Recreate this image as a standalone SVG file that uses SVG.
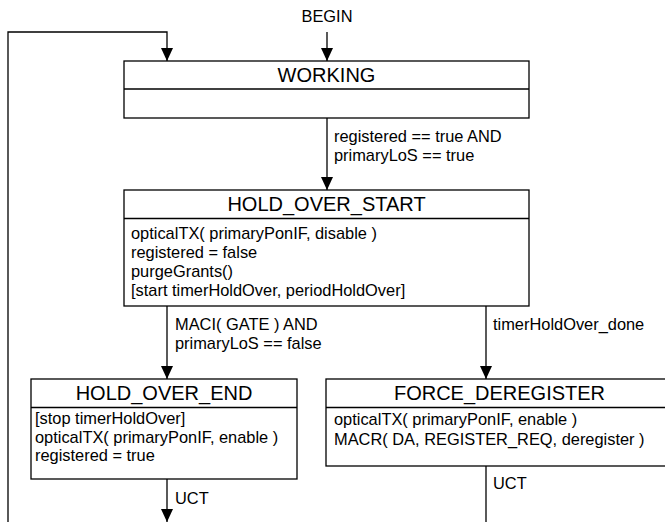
<svg xmlns="http://www.w3.org/2000/svg" width="665" height="522" viewBox="0 0 665 522">
<defs>
<marker id="arr" markerUnits="userSpaceOnUse" markerWidth="13" markerHeight="12" refX="13" refY="6" orient="auto" viewBox="0 0 13 12">
<path d="M0,0 L13,6 L0,12 Z" fill="#000"/>
</marker>
</defs>
<style>
.box{fill:#fff;stroke:#000;stroke-width:1.3}
.ln{fill:none;stroke:#000;stroke-width:1.3}
.t{font-family:"Liberation Sans",Arial,sans-serif;font-size:20px;fill:#000;text-anchor:middle}
.b{font-family:"Liberation Sans",Arial,sans-serif;font-size:16.4px;fill:#000}
</style>
<rect width="665" height="522" fill="#fff"/>
<g id="WORKING">
<rect class="box" x="124" y="61" width="405" height="57"/>
<line class="ln" x1="124" y1="89" x2="529" y2="89"/>
<text class="t" x="326.5" y="82">WORKING</text>
</g>
<g id="HOLD_OVER_START">
<rect class="box" x="124" y="190" width="405" height="116"/>
<line class="ln" x1="124" y1="218.5" x2="529" y2="218.5"/>
<text class="t" x="326.5" y="210.5">HOLD_OVER_START</text>
<text class="b" x="131" y="238.5">opticalTX( primaryPonIF, disable )</text>
<text class="b" x="131" y="257.5">registered = false</text>
<text class="b" x="131" y="276.5">purgeGrants()</text>
<text class="b" x="131" y="295.5">[start timerHoldOver, periodHoldOver]</text>
</g>
<g id="HOLD_OVER_END">
<rect class="box" x="31" y="379" width="266" height="100"/>
<line class="ln" x1="31" y1="407.5" x2="297" y2="407.5"/>
<text class="t" x="164" y="399.5">HOLD_OVER_END</text>
<text class="b" x="35" y="424">[stop timerHoldOver]</text>
<text class="b" x="35" y="442.5">opticalTX( primaryPonIF, enable )</text>
<text class="b" x="35" y="461">registered = true</text>
</g>
<g id="FORCE_DEREGISTER">
<rect class="box" x="326" y="379" width="347" height="87"/>
<line class="ln" x1="326" y1="407.5" x2="673" y2="407.5"/>
<text class="t" x="499.5" y="399.5">FORCE_DEREGISTER</text>
<text class="b" x="334" y="425">opticalTX( primaryPonIF, enable )</text>
<text class="b" x="334" y="444.5">MACR( DA, REGISTER_REQ, deregister )</text>
</g>
<g id="connectors">
<path class="ln" d="M8,522 V32 H167 V61" marker-end="url(#arr)"/>
<path class="ln" d="M327,32 V61" marker-end="url(#arr)"/>
<text class="b" x="327" y="22" text-anchor="middle">BEGIN</text>
<path class="ln" d="M327,118 V190" marker-end="url(#arr)"/>
<text class="b" x="334" y="142">registered == true AND</text>
<text class="b" x="334" y="161">primaryLoS == true</text>
<path class="ln" d="M167,306 V379" marker-end="url(#arr)"/>
<text class="b" x="175" y="329.5">MACI( GATE ) AND</text>
<text class="b" x="175" y="348.5">primaryLoS == false</text>
<path class="ln" d="M486,306 V379" marker-end="url(#arr)"/>
<text class="b" x="493" y="329.5">timerHoldOver_done</text>
<path class="ln" d="M167,479 V522" marker-end="url(#arr)"/>
<text class="b" x="175" y="503.5">UCT</text>
<path class="ln" d="M486,466 V522"/>
<text class="b" x="493" y="489">UCT</text>
</g>
</svg>
